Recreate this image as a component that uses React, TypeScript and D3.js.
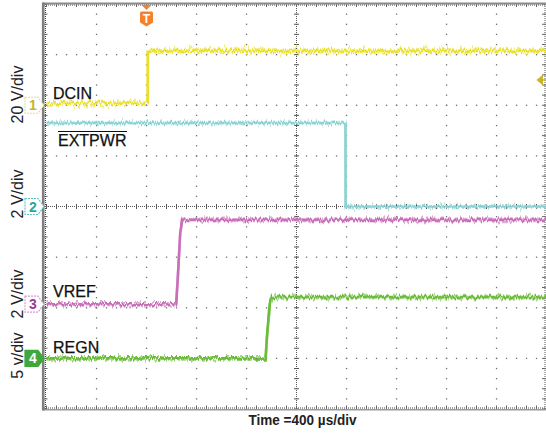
import React from "react";
import * as d3 from "d3";

// ---- data (time in µs, values in volts) ----
const ch1Times = [-2000, -1190, -1189, 2000];
const ch1Volts = [0.9, 0.9, 21.5, 21.5];
const ch2Times = [-2000, 392, 393, 2000];
const ch2Volts = [3.3, 3.3, 0, 0];
const ch3Times = [-2000, -962, -948, -930, -914, 2000];
const ch3Volts = [0, 0, 1.2, 2.8, 3.33, 3.33];
const ch4Times = [-2000, -247, -236, -214, -200, 2000];
const ch4Volts = [0, 0, 2.2, 5.4, 6.05, 6.05];

const channelNames = ["DCIN", "EXTPWR", "VREF", "REGN"];
const channelScales = [20, 2, 2, 5]; // V/div
const channelOffsets = [2, 0, -1.93, -3]; // divisions of ground marker
const scaleLabels = ["20 V/div", "2 V/div", "2 V/div", "5 v/div"];
const timeLabel = "Time =400 µs/div";
const triggerTime = -1200;
const triggerLevel = 10; // volts on ch1

const W = 546;
const H = 438;
const FONT = "'Liberation Sans', Arial, Helvetica, sans-serif";

const x = d3.scaleLinear().domain([-2000, 2000]).range([46.5, 546.5]);
const y = d3.scaleLinear().domain([-4, 4]).range([409, 4]);

const colors = ["#ebe02a", "#8dd3d3", "#c96fba", "#6abd38"];
const markerStroke = ["#e6dc8c", "#62c6c6", "#d99bd2", "#3ea83a"];
const markerText = ["#c4b52c", "#27a4a4", "#9c3c96", "#ffffff"];

const traces = [
  { t: ch1Times, v: ch1Volts },
  { t: ch2Times, v: ch2Volts },
  { t: ch3Times, v: ch3Volts },
  { t: ch4Times, v: ch4Volts },
];

const labelPos = [
  { dx: 53, by: 99, overline: false },
  { dx: 58, by: 146, overline: true },
  { dx: 53, by: 297, overline: false },
  { dx: 53, by: 353, overline: false },
];
const scaleLabelCenters = [94.5, 194, 294, 355.5];

function toY(ch: number, volts: number) {
  return y(channelOffsets[ch] + volts / channelScales[ch]);
}

export default function App() {
  const xDiv = d3.range(-5, 6).map((d) => 46.5 + (d + 5) * 50);
  const yDiv = d3.range(-4, 5).map((d) => y(d));
  const minorX = d3.range(-25, 26).map((k) => x((k / 5) * 400));
  const minorY = d3.range(-20, 21).map((k) => y(k / 5));
  const gridCol = "#6f6f6f";
  const xLeft = 44;
  const xRight = 545;
  const yTop = 4;
  const yBot = 409;
  const cx = x(0);
  const cy = y(0);

  const dots: JSX.Element[] = [];
  xDiv.forEach((gx, i) => {
    if (i === 0 || Math.abs(gx - cx) < 1) return;
    const px = Math.min(gx, xRight);
    minorY.forEach((py, j) => {
      dots.push(<rect key={`v${i}-${j}`} x={px - 0.6} y={py - 0.6} width={1.3} height={1.3} fill={gridCol} />);
    });
  });
  yDiv.forEach((gy, i) => {
    if (i === 0 || i === yDiv.length - 1 || Math.abs(gy - cy) < 1) return;
    minorX.forEach((px, j) => {
      if (px < xLeft || px > xRight) return;
      dots.push(<rect key={`h${i}-${j}`} x={px - 0.6} y={gy - 0.6} width={1.3} height={1.3} fill={gridCol} />);
    });
  });

  const ticks: JSX.Element[] = [];
  minorX.forEach((px, j) => {
    if (px < xLeft + 1 || px > xRight) return;
    ticks.push(<line key={`ct${j}`} x1={px} x2={px} y1={cy - 2.5} y2={cy + 2.5} stroke="#555" strokeWidth={1} />);
    ticks.push(<line key={`tt${j}`} x1={px} x2={px} y1={yTop} y2={yTop + 3} stroke="#666" strokeWidth={1} />);
    ticks.push(<line key={`bt${j}`} x1={px} x2={px} y1={yBot - 3.5} y2={yBot} stroke="#666" strokeWidth={1} />);
  });
  minorY.forEach((py, j) => {
    ticks.push(<line key={`cv${j}`} x1={cx - 2.5} x2={cx + 2.5} y1={py} y2={py} stroke="#555" strokeWidth={1} />);
    ticks.push(<line key={`lt${j}`} x1={xLeft} x2={xLeft + 3.5} y1={py} y2={py} stroke="#666" strokeWidth={1} />);
    ticks.push(<line key={`rt${j}`} x1={xRight - 3} x2={xRight} y1={py} y2={py} stroke="#666" strokeWidth={1} />);
  });

  const lineGen = (ch: number) =>
    d3
      .line<number>()
      .x((_, i) => x(traces[ch].t[i]))
      .y((v) => toY(ch, v))(traces[ch].v) || "";

  const marker = (ch: number) => {
    const c = y(channelOffsets[ch]);
    const filled = ch === 3;
    const pts = [
      [25, c - 8],
      [38, c - 8],
      [44, c],
      [38, c + 8],
      [25, c + 8],
    ]
      .map((p) => p.join(","))
      .join(" ");
    return (
      <g key={`m${ch}`}>
        <polygon
          points={pts}
          fill={filled ? markerStroke[ch] : "#ffffff"}
          stroke={markerStroke[ch]}
          strokeWidth={1.2}
          strokeDasharray={filled ? undefined : "2,1"}
        />
        <text x={33} y={c + 5} textAnchor="middle" fontFamily={FONT} fontWeight="bold" fontSize={14} fill={markerText[ch]}>
          {ch + 1}
        </text>
      </g>
    );
  };

  const tx = x(triggerTime);
  const tl = toY(0, triggerLevel);

  return (
    <svg width={W} height={H} style={{ position: "absolute", left: 0, top: 0, background: "#fff" }}>
      <defs>
        {[0, 1, 2, 3].map((ch) => (
          <filter key={`f${ch}`} id={`noise${ch}`} filterUnits="userSpaceOnUse" x={0} y={0} width={W} height={H} colorInterpolationFilters="sRGB">
            <feTurbulence type="fractalNoise" baseFrequency="0.5 0.015" numOctaves={2} seed={ch * 7 + 3} result="t" />
            <feColorMatrix in="t" type="matrix" values="0 0 0 0 0.5  0 1 0 0 0  0 0 0 0 0  0 0 0 0 1" result="m" />
            <feDisplacementMap in="SourceGraphic" in2="m" scale={ch === 0 ? 16 : 12} xChannelSelector="R" yChannelSelector="G" />
          </filter>
        ))}
        {[0, 1, 2, 3].map((ch) => (
          <filter key={`g${ch}`} id={`noiseb${ch}`} filterUnits="userSpaceOnUse" x={0} y={0} width={W} height={H} colorInterpolationFilters="sRGB">
            <feTurbulence type="fractalNoise" baseFrequency="0.7 0.015" numOctaves={1} seed={ch * 11 + 5} result="t" />
            <feColorMatrix in="t" type="matrix" values="0 0 0 0 0.5  0 1 0 0 0  0 0 0 0 0  0 0 0 0 1" result="m" />
            <feDisplacementMap in="SourceGraphic" in2="m" scale={ch === 0 ? 10 : 8} xChannelSelector="R" yChannelSelector="G" />
          </filter>
        ))}
      </defs>

      {/* graticule */}
      <g>{dots}</g>
      <line x1={xLeft} x2={xRight} y1={cy} y2={cy} stroke="#555" strokeWidth={1} strokeDasharray="1,1" />
      <line x1={cx} x2={cx} y1={yTop} y2={yBot} stroke="#555" strokeWidth={1} strokeDasharray="1,1" />
      <line x1={xLeft} x2={W} y1={yTop + 1} y2={yTop + 1} stroke="#444" strokeWidth={1} strokeDasharray="1,1" />
      <line x1={xLeft} x2={W} y1={yBot - 1} y2={yBot - 1} stroke="#444" strokeWidth={1} strokeDasharray="1,1" />
      <line x1={xLeft + 1.5} x2={xLeft + 1.5} y1={yTop} y2={yBot} stroke="#444" strokeWidth={1} strokeDasharray="1,1" />
      <line x1={xRight} x2={xRight} y1={yTop} y2={yBot} stroke="#555" strokeWidth={1} strokeDasharray="1,1" />
      <g>{ticks}</g>
      <line x1={xLeft - 1} x2={W} y1={yTop - 0.5} y2={yTop - 0.5} stroke="#8a8a8a" strokeWidth={2} />
      <line x1={xLeft - 1} x2={W} y1={yBot + 0.8} y2={yBot + 0.8} stroke="#9a9a9a" strokeWidth={1.6} />
      <line x1={xLeft - 0.8} x2={xLeft - 0.8} y1={yTop - 1.5} y2={yBot + 1.6} stroke="#7f7f7f" strokeWidth={2.6} />

      {/* traces */}
      {[0, 1, 2, 3].map((ch) => (
        <g key={`tr${ch}`}>
          <path d={lineGen(ch)} fill="none" stroke={colors[ch]} strokeWidth={2.6} strokeOpacity={0.6} filter={`url(#noise${ch})`} />
          <path d={lineGen(ch)} fill="none" stroke={colors[ch]} strokeWidth={2.6} filter={`url(#noiseb${ch})`} />
        </g>
      ))}

      {/* channel labels */}
      {channelNames.map((name, i) => (
        <text key={name} x={labelPos[i].dx} y={labelPos[i].by} fontFamily={FONT} fontSize={16} fill="#111" stroke="#111" strokeWidth={0.25}>
          {name}
        </text>
      ))}
      <line x1={58} x2={127} y1={131.5} y2={131.5} stroke="#111" strokeWidth={1.2} />

      {/* scale labels */}
      {scaleLabels.map((s, i) => (
        <text
          key={`s${i}`}
          transform={`translate(23,${scaleLabelCenters[i]}) rotate(-90)`}
          textAnchor="middle"
          fontFamily={FONT}
          fontSize={16}
          fill="#222"
        >
          {s}
        </text>
      ))}

      {/* channel markers */}
      {[0, 1, 2, 3].map((ch) => marker(ch))}

      {/* trigger position marker */}
      <g fill="#f58228">
        <polygon points={`${tx - 5},5 ${tx + 5},5 ${tx},10`} />
        <path d={`M${tx - 6.5},13 Q${tx - 6.5},11.5 ${tx - 5},11.5 L${tx + 5},11.5 Q${tx + 6.5},11.5 ${tx + 6.5},13 L${tx + 6.5},22.5 L${tx},26.5 L${tx - 6.5},22.5 Z`} />
      </g>
      <text x={tx} y={23} textAnchor="middle" fontFamily={FONT} fontWeight="bold" fontSize={12} fill="#fff">
        T
      </text>

      {/* trigger level marker */}
      <polygon points={`${536.5},${tl} ${543},${tl - 5.5} ${543},${tl + 5.5}`} fill="#c9b526" />
      <line x1={543} x2={546} y1={tl} y2={tl} stroke="#c9b526" strokeWidth={1.5} />

      {/* time label */}
      <text x={302.5} y={424.5} textAnchor="middle" fontFamily={FONT} fontWeight="bold" fontSize={14.5} textLength={108} lengthAdjust="spacingAndGlyphs" fill="#222">
        {timeLabel}
      </text>
    </svg>
  );
}
